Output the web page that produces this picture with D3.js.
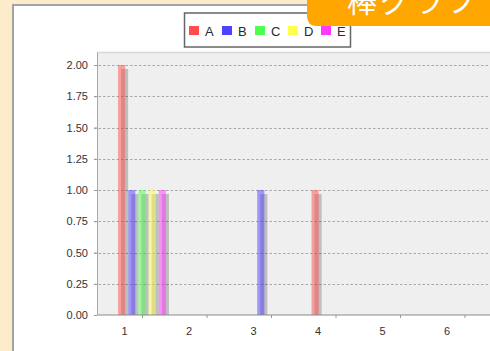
<!DOCTYPE html>
<html>
<head>
<meta charset="utf-8">
<script src="https://cdn.jsdelivr.net/npm/d3@7"></script>
<style>
  html, body { margin: 0; padding: 0; background: #fdecc9; }
  svg { display: block; }
</style>
</head>
<body>
<svg id="chart" width="490" height="351"></svg>
<script>
// Category labels along the x axis
const categories = [1, 2, 3, 4, 5, 6];
// Series names and colours
const seriesNames = ["A", "B", "C", "D", "E"];
const seriesColors = ["#ff4d4d", "#5040ff", "#4dff4d", "#ffff4d", "#ff38ff"];
// Values per series, one per category
const valuesA = [2, 0, 0, 1, 0, 0];
const valuesB = [1, 0, 1, 0, 0, 0];
const valuesC = [1, 0, 0, 0, 0, 0];
const valuesD = [1, 0, 0, 0, 0, 0];
const valuesE = [1, 0, 0, 0, 0, 0];
// Y axis ticks
const yTicks = [0, 0.25, 0.5, 0.75, 1, 1.25, 1.5, 1.75, 2];
const pageTitle = "棒グラフ";

const series = [valuesA, valuesB, valuesC, valuesD, valuesE];

const svg = d3.select("#chart");
const W = 490, H = 351;

// Panel background
svg.append("rect").attr("x", 0).attr("y", 0).attr("width", W).attr("height", H).attr("fill", "#fdecc9");
svg.append("rect")
  .attr("x", 13).attr("y", 5).attr("width", 520).attr("height", 400)
  .attr("fill", "#ffffff").attr("stroke", "#a3a3a3").attr("stroke-width", 2);

// Plot area
const plot = { left: 97, top: 52.5, right: 520, bottom: 315 };
const y = d3.scaleLinear().domain([0, 2.1]).range([plot.bottom, plot.top]);
const x = d3.scaleLinear().domain([1, 2]).range([142, 206.5]);
const sub = d3.scaleBand().domain(seriesNames).range([-25.5, 25.5]).paddingInner(0.3).paddingOuter(0.15);

svg.append("rect")
  .attr("x", plot.left).attr("y", plot.top)
  .attr("width", plot.right - plot.left).attr("height", plot.bottom - plot.top)
  .attr("fill", "#efefef");
svg.append("line")
  .attr("x1", plot.left).attr("x2", plot.right).attr("y1", plot.top).attr("y2", plot.top)
  .attr("stroke", "#d8d8d8").attr("stroke-width", 1.5);

// Gridlines
svg.append("g").selectAll("line").data(yTicks.filter(d => d > 0)).join("line")
  .attr("x1", plot.left - 3).attr("x2", plot.right)
  .attr("y1", d => Math.round(y(d)) + 0.5).attr("y2", d => Math.round(y(d)) + 0.5)
  .attr("stroke", "#a8a8a8").attr("stroke-dasharray", "2.5,2");

// Y axis
const yAxis = d3.axisLeft(y).tickValues(yTicks).tickFormat(d3.format(".2f")).tickSize(3).tickPadding(6);
const gy = svg.append("g").attr("transform", `translate(${plot.left},0)`).call(yAxis);
gy.select(".domain").remove();
gy.selectAll(".tick line").attr("stroke", "#999");
gy.selectAll("text").attr("font-family", "Liberation Sans, Arial, sans-serif")
  .attr("font-size", 11).attr("fill", "#333");

// Bars with drop shadows
const rows = [];
series.forEach((vals, si) => {
  vals.forEach((v, ci) => {
    if (v > 0) rows.push({ s: seriesNames[si], c: categories[ci], v, color: seriesColors[si] });
  });
});
const barW = sub.bandwidth();
const gBars = svg.append("g");
gBars.selectAll("rect.shadow").data(rows).join("rect").attr("class", "shadow")
  .attr("x", d => x(d.c) + sub(d.s) + 3)
  .attr("y", d => y(d.v) + 4)
  .attr("width", barW)
  .attr("height", d => plot.bottom - y(d.v) - 4)
  .attr("fill", "#000").attr("fill-opacity", 0.2);
gBars.selectAll("rect.bar").data(rows).join("rect").attr("class", "bar")
  .attr("x", d => x(d.c) + sub(d.s))
  .attr("y", d => y(d.v))
  .attr("width", barW)
  .attr("height", d => plot.bottom - y(d.v))
  .attr("fill", d => d.color).attr("fill-opacity", 0.5);

// X axis
const xAxis = d3.axisBottom(x).tickValues(categories).tickFormat(d => d).tickSize(3).tickPadding(9);
const gx = svg.append("g").attr("transform", `translate(0,${plot.bottom})`).call(xAxis);
gx.select(".domain").remove();
gx.selectAll(".tick line").attr("stroke", "#999");
gx.selectAll("text").attr("dx", -18)
  .attr("font-family", "Liberation Sans, Arial, sans-serif")
  .attr("font-size", 11).attr("fill", "#333");
svg.append("line").attr("x1", plot.left).attr("x2", plot.right).attr("y1", plot.bottom).attr("y2", plot.bottom)
  .attr("stroke", "#8a8a8a").attr("stroke-width", 1.2);
svg.append("line").attr("x1", plot.left + 0.5).attr("x2", plot.left + 0.5).attr("y1", plot.top).attr("y2", plot.bottom)
  .attr("stroke", "#a8a8a8");

// Legend
const lg = svg.append("g");
lg.append("rect").attr("x", 184.5).attr("y", 13).attr("width", 166).attr("height", 34)
  .attr("fill", "#fff").attr("stroke", "#666").attr("stroke-width", 1.5);
const items = lg.selectAll("g").data(seriesNames).join("g")
  .attr("transform", (d, i) => `translate(${189 + i * 33},0)`);
items.append("rect").attr("x", 0).attr("y", 26).attr("width", 10).attr("height", 9)
  .attr("fill", (d, i) => seriesColors[i]);
items.append("text").attr("x", 16).attr("y", 35.5).text(d => d)
  .attr("font-family", "Liberation Sans, Arial, sans-serif").attr("font-size", 13)
  .attr("fill", "#2a2a2a");

// Title banner
svg.append("path")
  .attr("d", "M307,0 H500 V26 H317 Q307,26 307,16 Z")
  .attr("fill", "#ffa600");
svg.append("text").attr("x", 347).attr("y", 12).text(pageTitle)
  .attr("font-family", "Noto Sans CJK JP, sans-serif").attr("font-size", 30)
  .attr("letter-spacing", 3).attr("fill", "#fff");
</script>
</body>
</html>
